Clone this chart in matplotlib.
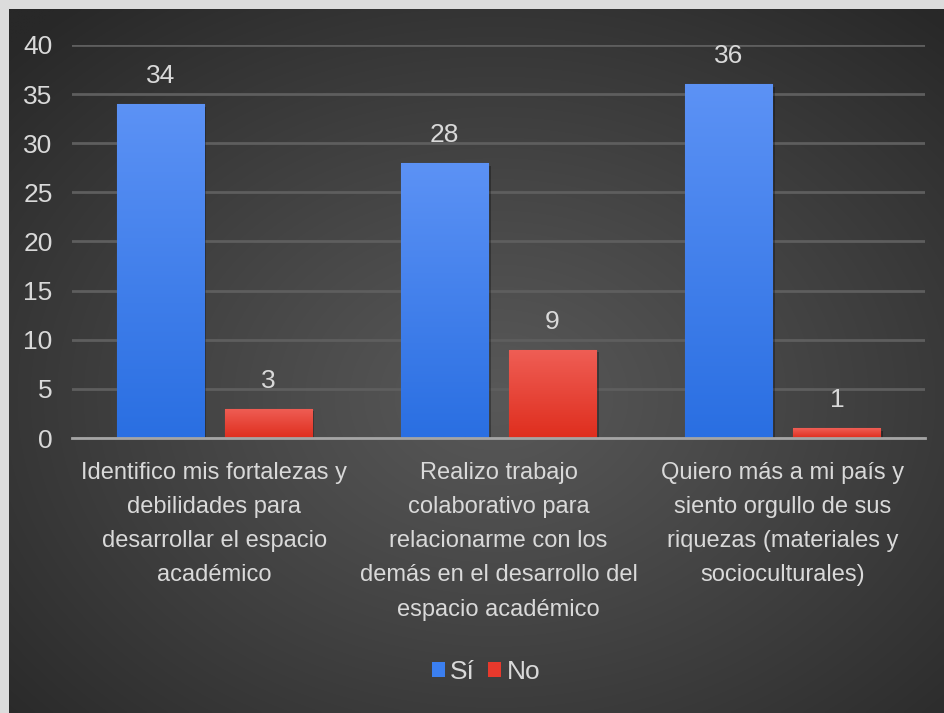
import numpy as np
import matplotlib
matplotlib.use('Agg')
import matplotlib.pyplot as plt
from matplotlib.patches import Patch
import matplotlib.patheffects as pe

categories = [
    "Identifico mis fortalezas y\ndebilidades para\ndesarrollar el espacio\nacadémico",
    "Realizo trabajo\ncolaborativo para\nrelacionarme con los\ndemás en el desarrollo del\nespacio académico",
    "Quiero más a mi país y\nsiento orgullo de sus\nriquezas (materiales y\nsocioculturales)",
]
series_names = ["Sí", "No"]
si_values = [34, 28, 36]
no_values = [3, 9, 1]
y_ticks = [0, 5, 10, 15, 20, 25, 30, 35, 40]

plt.rcParams['font.family'] = ['Liberation Sans Narrow', 'Liberation Sans', 'DejaVu Sans']

W, H = 944, 713
fig = plt.figure(figsize=(W / 100, H / 100), dpi=100)
fig.patch.set_facecolor('#dcdcdc')

# dark radial-gradient background panel
bg = fig.add_axes([9 / W, 0, 1 - 9 / W, 1 - 9 / H])
bh, bw = 300, 400
yy, xx = np.mgrid[0:bh, 0:bw]
cx, cy = 0.52 * bw, 0.55 * bh
r = np.sqrt(((xx - cx) / bw) ** 2 + ((yy - cy) / bh) ** 2)
val = 88 - (88 - 40) * np.clip(r / 0.72, 0, 1) ** 1.1
img = np.dstack([val, val, val]) / 255.0
bg.imshow(img, aspect='auto', extent=[0, 1, 0, 1], origin='upper', interpolation='bilinear')
bg.set_axis_off()

ax = fig.add_axes([72 / W, 1 - 438 / H, (925 - 72) / W, (438 - 45) / H])
ax.set_facecolor('none')

x = np.arange(len(categories))
width = 0.306
off = 0.19
tick_col = '#d9d9d9'

def grad_bars(xs, vals, top, bottom, edge):
    bars = ax.bar(xs, vals, width, color=bottom, edgecolor=edge, linewidth=0.8, zorder=3)
    for b in bars:
        b.set_path_effects([pe.SimplePatchShadow(offset=(2, -2), shadow_rgbFace='black', alpha=0.3),
                            pe.Normal()])
    top = np.array(matplotlib.colors.to_rgb(top))
    bottom = np.array(matplotlib.colors.to_rgb(bottom))
    t = np.linspace(0, 1, 64)[:, None]
    g = (bottom * (1 - t) + top * t)[:, None, :]
    for b in bars:
        x0, y0 = b.get_x(), b.get_y()
        im = ax.imshow(g, extent=[x0, x0 + b.get_width(), y0, y0 + b.get_height()],
                       origin='lower', aspect='auto', zorder=3.5, interpolation='bilinear')
        im.set_clip_path(b)
    return bars

grad_bars(x - off, si_values, '#5c92f5', '#2a6fe2', '#3d73d6')
grad_bars(x + off, no_values, '#ef5e55', '#df2e1e', '#d94a3c')

for xs, vals in ((x - off, si_values), (x + off, no_values)):
    for xi, v in zip(xs, vals):
        ax.annotate(str(v), (xi, v), xytext=(0, 15), textcoords='offset points',
                    ha='center', va='baseline', fontsize=19, color=tick_col, zorder=5)

ax.set_xlim(-0.5, 2.5)
ax.set_ylim(0, 40)
ax.set_yticks(y_ticks)
ax.set_xticks(x)
ax.set_xticklabels(categories, fontsize=17, color=tick_col, linespacing=1.72)
ax.tick_params(axis='y', length=0, pad=14, labelsize=19, labelcolor=tick_col)
ax.tick_params(axis='x', length=0, pad=17)
ax.yaxis.grid(True, color='#5e5e5e', linewidth=2, zorder=0)
ax.set_axisbelow(True)
for s in ('top', 'right', 'left'):
    ax.spines[s].set_visible(False)
ax.spines['bottom'].set_color('#a5a5a5')
ax.spines['bottom'].set_linewidth(2)
ax.spines['bottom'].set_zorder(4)

handles = [Patch(facecolor='#3b7ff0', edgecolor='none'), Patch(facecolor='#e8392c', edgecolor='none')]
leg = fig.legend(handles, series_names, loc='center', bbox_to_anchor=(486 / W, 1 - 672 / H),
                 ncol=2, frameon=False, fontsize=19, handlelength=0.5, handleheight=0.5,
                 columnspacing=0.5, handletextpad=0.2)
for t in leg.get_texts():
    t.set_color(tick_col)

fig.savefig('out.png', dpi=100, facecolor=fig.get_facecolor())
